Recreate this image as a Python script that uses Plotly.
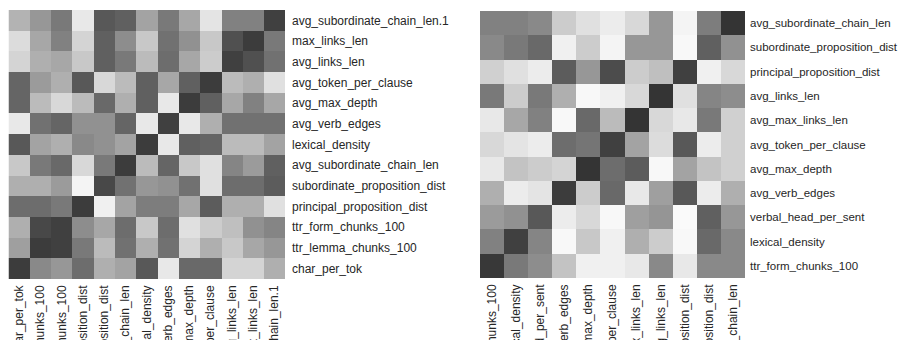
import plotly.graph_objects as go

# Feature order for the first correlation map (rows top -> bottom)
feat_a = [
    "avg_subordinate_chain_len.1", "max_links_len", "avg_links_len",
    "avg_token_per_clause", "avg_max_depth", "avg_verb_edges",
    "lexical_density", "avg_subordinate_chain_len",
    "subordinate_proposition_dist", "principal_proposition_dist",
    "ttr_form_chunks_100", "ttr_lemma_chunks_100", "char_per_tok",
]
cols_a = feat_a[::-1]

# |correlation| values, one row per entry of feat_a, columns follow cols_a
corr_a = [
    [0.35, 0.49, 0.64, 0.09, 0.80, 0.76, 0.43, 0.64, 0.41, 0.11, 0.60, 0.60, 0.92],
    [0.15, 0.41, 0.60, 0.19, 0.76, 0.54, 0.25, 0.68, 0.52, 0.25, 0.84, 0.94, 0.64],
    [0.19, 0.37, 0.41, 0.25, 0.76, 0.64, 0.31, 0.70, 0.41, 0.23, 0.92, 0.84, 0.68],
    [0.74, 0.47, 0.37, 0.80, 0.17, 0.31, 0.76, 0.41, 0.76, 0.94, 0.31, 0.37, 0.13],
    [0.74, 0.31, 0.17, 0.31, 0.72, 0.37, 0.76, 0.09, 0.94, 0.76, 0.41, 0.60, 0.41],
    [0.09, 0.68, 0.74, 0.52, 0.52, 0.74, 0.09, 0.92, 0.09, 0.37, 0.68, 0.68, 0.68],
    [0.80, 0.43, 0.37, 0.56, 0.52, 0.43, 0.94, 0.09, 0.76, 0.74, 0.31, 0.31, 0.43],
    [0.25, 0.64, 0.72, 0.17, 0.64, 0.94, 0.31, 0.74, 0.25, 0.13, 0.58, 0.47, 0.76],
    [0.37, 0.37, 0.47, 0.03, 0.88, 0.68, 0.49, 0.52, 0.68, 0.13, 0.70, 0.70, 0.78],
    [0.70, 0.70, 0.64, 0.94, 0.05, 0.43, 0.62, 0.62, 0.41, 0.78, 0.37, 0.37, 0.13],
    [0.37, 0.88, 0.92, 0.54, 0.41, 0.70, 0.25, 0.70, 0.13, 0.23, 0.29, 0.52, 0.58],
    [0.45, 0.94, 0.92, 0.64, 0.31, 0.68, 0.37, 0.68, 0.19, 0.37, 0.25, 0.41, 0.49],
    [0.94, 0.56, 0.49, 0.70, 0.37, 0.43, 0.80, 0.09, 0.72, 0.72, 0.19, 0.19, 0.37],
]

# Feature order for the second correlation map (rows top -> bottom)
feat_b = [
    "avg_subordinate_chain_len", "subordinate_proposition_dist",
    "principal_proposition_dist", "avg_links_len", "avg_max_links_len",
    "avg_token_per_clause", "avg_max_depth", "avg_verb_edges",
    "verbal_head_per_sent", "lexical_density", "ttr_form_chunks_100",
]
cols_b = feat_b[::-1]

corr_b = [
    [0.60, 0.60, 0.56, 0.23, 0.13, 0.07, 0.17, 0.49, 0.03, 0.62, 0.98],
    [0.56, 0.64, 0.72, 0.05, 0.23, 0.03, 0.49, 0.49, 0.01, 0.76, 0.52],
    [0.21, 0.13, 0.07, 0.78, 0.49, 0.86, 0.23, 0.29, 0.92, 0.05, 0.17],
    [0.64, 0.23, 0.64, 0.37, 0.01, 0.05, 0.17, 0.98, 0.13, 0.58, 0.54],
    [0.09, 0.41, 0.60, 0.01, 0.72, 0.31, 0.98, 0.17, 0.09, 0.64, 0.21],
    [0.17, 0.11, 0.07, 0.70, 0.66, 0.92, 0.43, 0.15, 0.80, 0.07, 0.21],
    [0.09, 0.27, 0.23, 0.19, 0.98, 0.70, 0.78, 0.01, 0.43, 0.27, 0.21],
    [0.37, 0.07, 0.11, 0.94, 0.23, 0.72, 0.09, 0.45, 0.80, 0.07, 0.37],
    [0.47, 0.52, 0.80, 0.07, 0.17, 0.01, 0.45, 0.50, 0.00, 0.76, 0.49],
    [0.60, 0.92, 0.58, 0.01, 0.25, 0.05, 0.37, 0.23, 0.01, 0.72, 0.56],
    [0.96, 0.64, 0.54, 0.27, 0.05, 0.05, 0.09, 0.56, 0.09, 0.56, 0.56],
]

W, H = 899, 340
grey_scale = [[0.0, "#fafafa"], [1.0, "#303030"]]
label_font = dict(family="Liberation Sans, Arial, sans-serif", size=12, color="#262626")
label_font_narrow = dict(label_font, size=11.5)


def px_x(a, b):
    return [a / W, b / W]


def px_y(top, bottom):
    return [(H - bottom) / H, (H - top) / H]


fig = go.Figure()
fig.add_trace(go.Heatmap(
    z=corr_a, x=cols_a, y=feat_a, xaxis="x", yaxis="y",
    colorscale=grey_scale, zmin=0, zmax=1, showscale=False,
))
fig.add_trace(go.Heatmap(
    z=corr_b, x=cols_b, y=feat_b, xaxis="x2", yaxis="y2",
    colorscale=grey_scale, zmin=0, zmax=1, showscale=False,
))

axis_common = dict(showgrid=False, zeroline=False, showline=False, ticks="",
                   type="category", automargin=False, tickmode="array")

fig.update_layout(
    width=W, height=H,
    margin=dict(l=0, r=0, t=0, b=0),
    paper_bgcolor="white", plot_bgcolor="white",
    xaxis=dict(domain=px_x(8.5, 285), anchor="y", tickangle=-90,
               tickvals=cols_a, ticklabelstandoff=3, tickfont=label_font,
               **axis_common),
    yaxis=dict(domain=px_y(10, 279), anchor="x", side="right",
               autorange="reversed", tickvals=feat_a, ticklabelstandoff=6,
               tickfont=label_font, **axis_common),
    xaxis2=dict(domain=px_x(480, 745), anchor="y2", tickangle=-90,
                tickvals=cols_b, ticklabelstandoff=3, tickfont=label_font,
                **axis_common),
    yaxis2=dict(domain=px_y(11, 278), anchor="x2", side="right",
                autorange="reversed", tickvals=feat_b, ticklabelstandoff=4,
                tickfont=label_font_narrow, **axis_common),
)

fig.write_html("out.html")
